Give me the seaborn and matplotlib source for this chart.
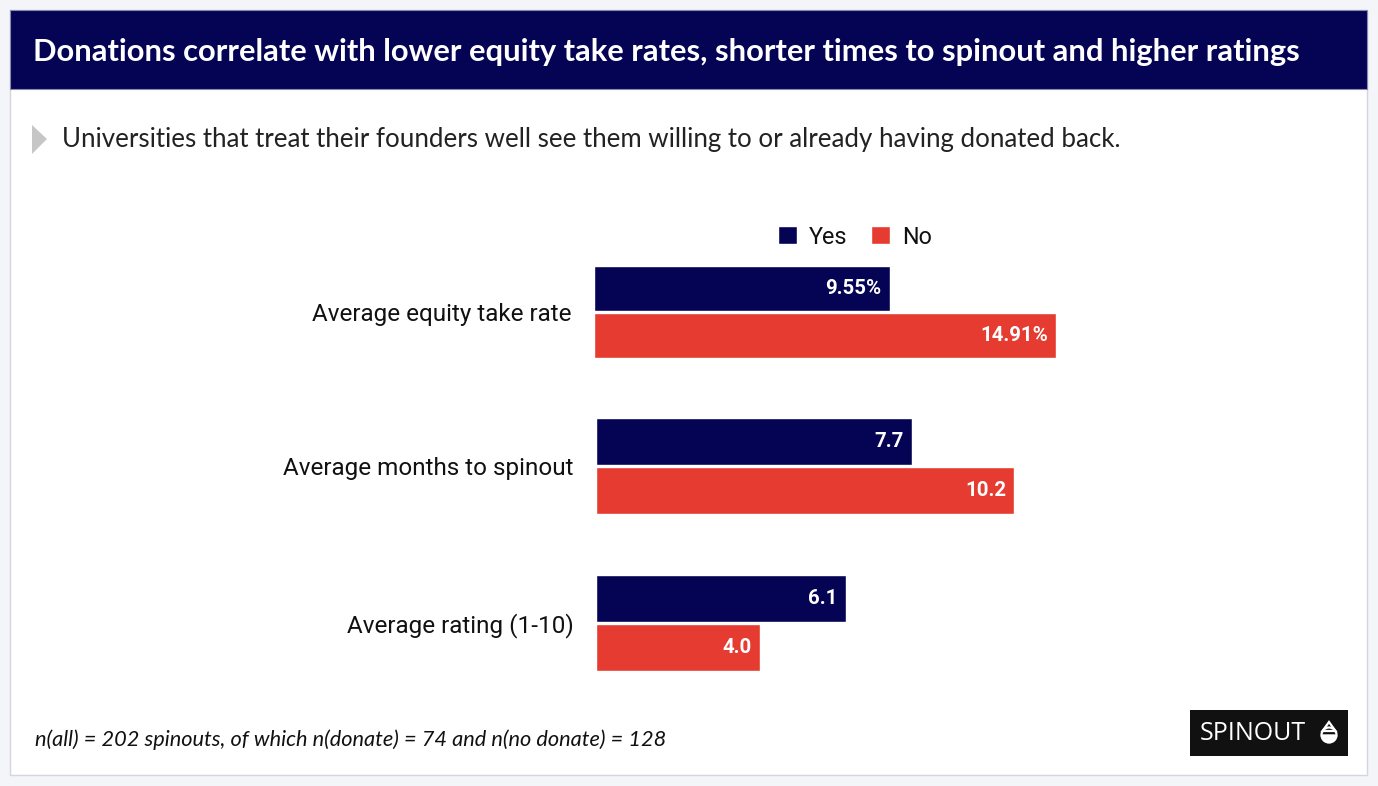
import pandas as pd
import numpy as np
import matplotlib
matplotlib.use("Agg")
import matplotlib.pyplot as plt
import seaborn as sns
from matplotlib.patches import Rectangle, Polygon, Patch, Circle, Wedge

# data
metrics = ["Average equity take rate", "Average months to spinout", "Average rating (1-10)"]
yes_vals = [9.55, 7.7, 6.1]
no_vals = [14.91, 10.2, 4.0]
groups = ["Yes", "No"]
value_fmt = ["{:.2f}%", "{:.1f}", "{:.1f}"]

df = pd.DataFrame({
    "metric": metrics * 2,
    "group": ["Yes"] * 3 + ["No"] * 3,
    "value": yes_vals + no_vals,
})

NAVY = "#050354"
RED = "#e53b30"
W, H = 1378, 786

sns.set_theme(style="white")
plt.rcParams["font.family"] = ["Roboto", "DejaVu Sans"]

fig = plt.figure(figsize=(W / 100, H / 100), dpi=100)
fig.patch.set_facecolor("#f4f5f9")


def px(x, y, w, h):
    return [x / W, 1 - (y + h) / H, w / W, h / H]


def frect(x, y, w, h, **kw):
    r = Rectangle((x / W, 1 - (y + h) / H), w / W, h / H, transform=fig.transFigure, **kw)
    fig.patches.append(r)
    return r


# card and header band (kept behind the axes)
frect(10, 10, 1357, 765, facecolor="white", edgecolor="#d4d5de", linewidth=1, zorder=-10)
frect(10, 10, 1357, 79, facecolor=NAVY, edgecolor="#8a8ab0", linewidth=0.8, zorder=-9)
fig.text(33 / W, 1 - 52 / H, "Donations correlate with lower equity take rates, shorter times to spinout and higher ratings",
         color="white", fontsize=22.2, fontweight="bold", family=["Lato", "DejaVu Sans"], va="center", ha="left")

# subtitle with grey marker
fig.patches.append(Polygon([(32 / W, 1 - 125 / H), (47 / W, 1 - 139 / H), (32 / W, 1 - 154 / H)],
                           closed=True, transform=fig.transFigure, facecolor="#c6c6c6", edgecolor="none"))
fig.text(62 / W, 1 - 139 / H, "Universities that treat their founders well see them willing to or already having donated back.",
         color="#222222", fontsize=18.6, family=["Lato", "DejaVu Sans"], va="center", ha="left")

# one axis per metric, each with its own scale
axes_box = [(594, 265, 94), (596, 417, 98), (596, 574, 98)]
px_per_unit = [31.0, 41.0, 41.0]
ax_w = 700
for i, m in enumerate(metrics):
    x0, y0, h0 = axes_box[i]
    ax = fig.add_axes(px(x0, y0, ax_w, h0))
    sub = df[df["metric"] == m]
    sns.barplot(data=sub, y="metric", x="value", hue="group", hue_order=groups,
                palette=[NAVY, RED], width=1.0, gap=0.06, ax=ax, legend=False,
                saturation=1, errorbar=None)
    ax.set_xlim(0, ax_w / px_per_unit[i])
    ax.set_ylim(0.5, -0.5)
    ax.set_xlabel("")
    ax.set_ylabel("")
    ax.set_xticks([])
    ax.tick_params(axis="y", length=0, pad=16, labelsize=17.5, labelcolor="#111111")
    ax.patch.set_alpha(0)
    for s in ax.spines.values():
        s.set_visible(False)
    vals = [yes_vals[i], no_vals[i]]
    for cont, v in zip(ax.containers, vals):
        for p in cont.patches:
            ax.annotate(value_fmt[i].format(v), (p.get_x() + p.get_width(), p.get_y() + p.get_height() / 2),
                        xytext=(-6, 0), textcoords="offset points", ha="right", va="center",
                        color="white", fontsize=14.7, fontweight="bold")

# legend
handles = [Patch(facecolor=NAVY, label="Yes"), Patch(facecolor=RED, label="No")]
fig.legend(handles=handles, loc="center", bbox_to_anchor=(855 / W, 1 - 237 / H), ncol=2, frameon=False,
           fontsize=16.8, handlelength=0.82, handleheight=0.82, handletextpad=0.5, columnspacing=1.0,
           labelcolor="#111111")

# footnote
fig.text(35 / W, 1 - 740 / H, "n(all) = 202 spinouts, of which n(donate) = 74 and n(no donate) = 128",
         color="#111111", fontsize=15.7, style="italic", family=["Lato", "DejaVu Sans"], va="center", ha="left")

# logo
frect(1190, 710, 158, 46, facecolor="#111111", edgecolor="none")
fig.text(1200 / W, 1 - 733 / H, "SPINOUT", color="white", fontsize=18, family=["Open Sans", "DejaVu Sans"],
         va="center", ha="left")
fig.patches.append(Wedge((1329, H - 735), 7.5, 180, 360, transform=None, facecolor="white", edgecolor="white"))
fig.patches.append(Circle((1329, H - 735), 7.5, transform=None, facecolor="none", edgecolor="white", linewidth=1.6))
fig.patches.append(Polygon([(1322.5, H - 731), (1329, H - 722), (1335.5, H - 731)], closed=True, transform=None,
                           facecolor="none", edgecolor="white", linewidth=1.6))

fig.savefig("out.png", dpi=100)
